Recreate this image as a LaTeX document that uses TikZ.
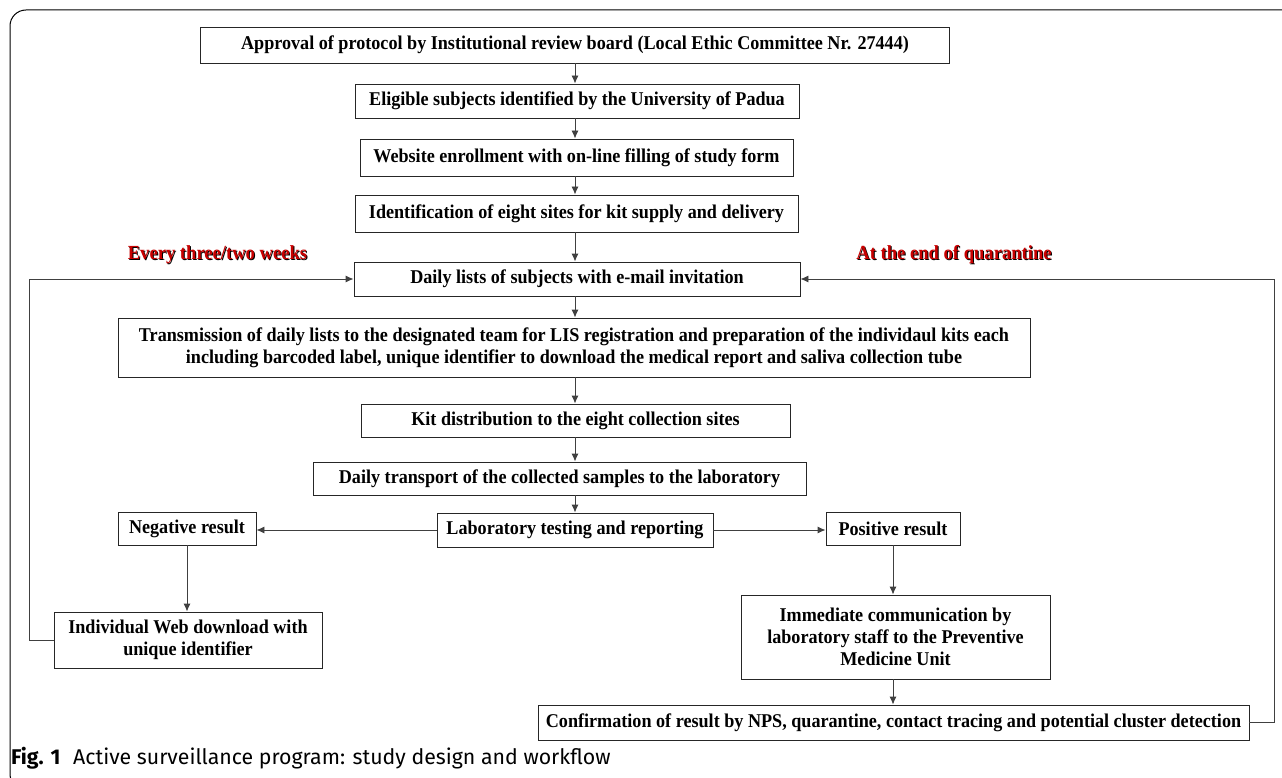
\documentclass[tikz,border=0pt]{standalone}
\usepackage{fontspec}
\setmainfont{Liberation Serif}
\newfontfamily\boxfont{Liberation Serif}[FakeStretch=0.93]
\newfontfamily\capfont{Fira Sans}
\usetikzlibrary{arrows.meta}
\definecolor{lbl}{RGB}{200,0,0}
\begin{document}
\begin{tikzpicture}[x=1pt,y=-1pt,
  box/.style={draw=black!85, line width=0.9pt, fill=white, inner sep=0pt, align=center,
    font=\boxfont\bfseries\fontsize{19.5}{22}\selectfont},
  arr/.style={draw=black!75, line width=0.9pt, -{Latex[length=8pt,width=7pt]}},
  redlbl/.style={font=\boxfont\bfseries\fontsize{20}{22}\selectfont}]
\useasboundingbox (0,0) rectangle (1282,778);
\begin{scope}
\clip (0,0) rectangle (1282,778);
\draw[black, line width=1pt, rounded corners=16] (1290,10) -- (10,10) -- (10,790) -- (30,790);
\end{scope}
% nodes
\node[box, minimum width=749, minimum height=36] (b1) at (575,45) {Approval of protocol by Institutional review board (Local Ethic Committee Nr. 27444)};
\node[box, minimum width=444, minimum height=34] (b2) at (577,101) {Eligible subjects identified by the University of Padua};
\node[box, minimum width=433, minimum height=37] (b3) at (576.5,157.5) {Website enrollment with on-line filling of study form};
\node[box, minimum width=443, minimum height=37] (b4) at (576.5,213.5) {Identification of eight sites for kit supply and delivery};
\node[box, minimum width=446, minimum height=34] (b5) at (577,279) {Daily lists of subjects with e-mail invitation};
\node[box, minimum width=912, minimum height=59] (b6) at (574,347.5) {Transmission of daily lists to the designated team for LIS registration and preparation of the individaul kits each\\including barcoded label, unique identifier to download the medical report and saliva collection tube};
\node[box, minimum width=429, minimum height=33] (b7) at (575.5,420.5) {Kit distribution to the eight collection sites};
\node[box, minimum width=493, minimum height=33] (b8) at (559.5,478.5) {Daily transport of the collected samples to the laboratory};
\node[box, minimum width=276, minimum height=34] (lab) at (575,530) {Laboratory testing and reporting};
\node[box, minimum width=138, minimum height=33] (neg) at (187,528.5) {Negative result};
\node[box, minimum width=134, minimum height=33] (pos) at (893,528.5) {Positive result};
\node[box, minimum width=268, minimum height=56] (ind) at (188,640) {Individual Web download with\\unique identifier};
\node[box, minimum width=309, minimum height=84] (imm) at (895.5,637) {Immediate communication by\\laboratory staff to the Preventive\\Medicine Unit};
\node[box, minimum width=711, minimum height=35] (conf) at (893.5,722.5) {Confirmation of result by NPS, quarantine, contact tracing and potential cluster detection};
\coordinate (col) at (575,0);
\coordinate (rr) at (1274,0);
% connectors
\draw[arr] (b1.south -| col) -- (b2.north -| col);
\draw[arr] (b2.south -| col) -- (b3.north -| col);
\draw[arr] (b3.south -| col) -- (b4.north -| col);
\draw[arr] (b4.south -| col) -- (b5.north -| col);
\draw[arr] (b5.south -| col) -- (b6.north -| col);
\draw[arr] (b6.south -| col) -- (b7.north -| col);
\draw[arr] (b7.south -| col) -- (b8.north -| col);
\draw[arr] (b8.south -| col) -- (lab.north -| col);
\draw[arr] (lab.west) -- (lab.west -| neg.east);
\draw[arr] (lab.east) -- (lab.east -| pos.west);
\draw[arr] (neg.south) -- (neg.south |- ind.north);
\draw[arr] (pos.south) -- (pos.south |- imm.north);
\draw[arr] (imm.south -| pos.south) -- (conf.north -| pos.south);
\draw[arr] (ind.west) -- ++(-24,0) |- (b5.west);
\draw[arr] (conf.east) -- (conf.east -| rr) |- (b5.east);
% red labels
\node[redlbl, text=black] (l1s) at (218.5,256) {Every three/two weeks};
\node[redlbl, text=lbl] (l1) at (217.5,255) {Every three/two weeks};
\node[redlbl, text=black] (l2s) at (955,256) {At the end of quarantine};
\node[redlbl, text=lbl] (l2) at (954,255) {At the end of quarantine};
% caption
\node[anchor=west, inner sep=0pt, font=\capfont\fontsize{21.3}{24}\selectfont] (cap) at (11,758) {\textbf{Fig. 1}\hspace{0.6em}Active surveillance program: study design and workflow};
\end{tikzpicture}
\end{document}
